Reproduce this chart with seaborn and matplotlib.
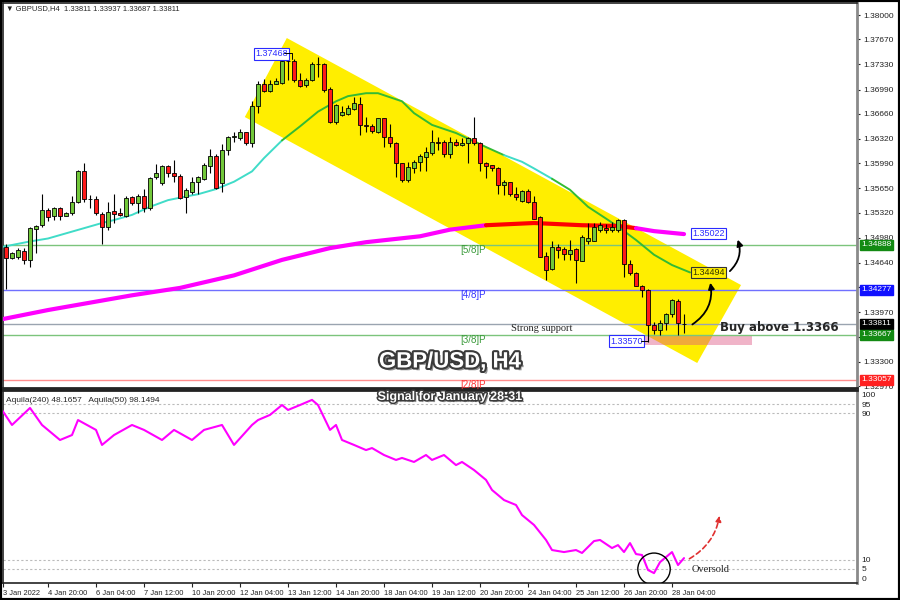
import numpy as np
import pandas as pd
import seaborn as sns
import matplotlib.pyplot as plt
from matplotlib import patheffects as pe
from matplotlib.patches import Polygon, Rectangle, Ellipse, FancyArrowPatch

sns.set_style("white")
plt.rcParams['font.family'] = ['DejaVu Sans']

# GBPUSD H4 candles, bar 1 .. 114
opens = [1.3486, 1.3471, 1.3472, 1.3480, 1.3468, 1.3510, 1.3515, 1.3535, 1.3527, 1.3538,
         1.3528, 1.3531, 1.3547, 1.3588, 1.3551, 1.3551, 1.3530, 1.3512, 1.3534, 1.3532,
         1.3527, 1.3553, 1.3545, 1.3555, 1.3539, 1.3580, 1.3572, 1.3595, 1.3586, 1.3582,
         1.3553, 1.3560, 1.3574, 1.3578, 1.3595, 1.3609, 1.3572, 1.3617, 1.3635, 1.3633,
         1.3641, 1.3627, 1.3676, 1.3707, 1.3697, 1.3707, 1.3708, 1.3738, 1.3738, 1.3712,
         1.3705, 1.3712, 1.3733, 1.3733, 1.3700, 1.3655, 1.3664, 1.3666, 1.3673, 1.3680,
         1.3651, 1.3650, 1.3642, 1.3660, 1.3634, 1.3626, 1.3599, 1.3576, 1.3592, 1.3601,
         1.3608, 1.3613, 1.3628, 1.3628, 1.3611, 1.3628, 1.3624, 1.3626, 1.3633, 1.3627,
         1.3600, 1.3596, 1.3592, 1.3570, 1.3573, 1.3557, 1.3548, 1.3561, 1.3546, 1.3526,
         1.3473, 1.3455, 1.3486, 1.3483, 1.3476, 1.3483, 1.3467, 1.3493, 1.3494, 1.3509,
         1.3511, 1.3509, 1.3509, 1.3522, 1.3463, 1.3450, 1.3433, 1.3427, 1.3380, 1.3373,
         1.3382, 1.3395, 1.3412, 1.3381]
highs = [1.3490, 1.3479, 1.3484, 1.3484, 1.3513, 1.3515, 1.3557, 1.3538, 1.3540, 1.3540,
         1.3533, 1.3555, 1.3590, 1.3599, 1.3556, 1.3554, 1.3533, 1.3546, 1.3558, 1.3538,
         1.3554, 1.3555, 1.3558, 1.3564, 1.3581, 1.3598, 1.3597, 1.3597, 1.3603, 1.3585,
         1.3565, 1.3581, 1.3582, 1.3600, 1.3618, 1.3612, 1.3625, 1.3636, 1.3642, 1.3646,
         1.3642, 1.3684, 1.3710, 1.3713, 1.3712, 1.3714, 1.3744, 1.3747, 1.3740, 1.3722,
         1.3714, 1.3736, 1.3743, 1.3735, 1.3703, 1.3680, 1.3676, 1.3678, 1.3689, 1.3689,
         1.3662, 1.3652, 1.3661, 1.3660, 1.3652, 1.3628, 1.3600, 1.3601, 1.3603, 1.3611,
         1.3621, 1.3644, 1.3635, 1.3631, 1.3635, 1.3632, 1.3633, 1.3635, 1.3662, 1.3628,
         1.3601, 1.3597, 1.3594, 1.3576, 1.3574, 1.3567, 1.3563, 1.3564, 1.3555, 1.3527,
         1.3479, 1.3493, 1.3490, 1.3486, 1.3495, 1.3484, 1.3502, 1.3518, 1.3518, 1.3520,
         1.3517, 1.3520, 1.3524, 1.3524, 1.3468, 1.3451, 1.3434, 1.3429, 1.3384, 1.3387,
         1.3396, 1.3415, 1.3415, 1.3394]
lows = [1.3429, 1.3469, 1.3469, 1.3463, 1.3459, 1.3478, 1.3513, 1.3521, 1.3522, 1.3522,
        1.3527, 1.3529, 1.3545, 1.3547, 1.3538, 1.3529, 1.3490, 1.3509, 1.3518, 1.3527,
        1.3526, 1.3542, 1.3531, 1.3533, 1.3536, 1.3577, 1.3569, 1.3581, 1.3574, 1.3551,
        1.3531, 1.3558, 1.3558, 1.3576, 1.3586, 1.3564, 1.3560, 1.3610, 1.3628, 1.3631,
        1.3624, 1.3621, 1.3667, 1.3696, 1.3695, 1.3706, 1.3706, 1.3712, 1.3709, 1.3702,
        1.3703, 1.3711, 1.3716, 1.3695, 1.3653, 1.3652, 1.3663, 1.3664, 1.3671, 1.3637,
        1.3642, 1.3640, 1.3640, 1.3621, 1.3621, 1.3581, 1.3573, 1.3573, 1.3586, 1.3588,
        1.3588, 1.3610, 1.3617, 1.3608, 1.3606, 1.3622, 1.3622, 1.3599, 1.3624, 1.3588,
        1.3579, 1.3588, 1.3558, 1.3556, 1.3554, 1.3549, 1.3547, 1.3545, 1.3524, 1.3472,
        1.3441, 1.3454, 1.3470, 1.3468, 1.3468, 1.3436, 1.3466, 1.3490, 1.3493, 1.3506,
        1.3504, 1.3506, 1.3506, 1.3445, 1.3448, 1.3432, 1.3418, 1.3357, 1.3368, 1.3366,
        1.3373, 1.3391, 1.3366, 1.3369]
closes = [1.3471, 1.3477, 1.3481, 1.3468, 1.3511, 1.3514, 1.3535, 1.3526, 1.3538, 1.3527,
          1.3532, 1.3547, 1.3589, 1.3551, 1.3550, 1.3531, 1.3512, 1.3533, 1.3530, 1.3529,
          1.3552, 1.3545, 1.3555, 1.3538, 1.3579, 1.3586, 1.3595, 1.3586, 1.3582, 1.3552,
          1.3563, 1.3574, 1.3580, 1.3597, 1.3609, 1.3565, 1.3617, 1.3635, 1.3636, 1.3641,
          1.3627, 1.3676, 1.3707, 1.3697, 1.3707, 1.3710, 1.3737, 1.3738, 1.3712, 1.3704,
          1.3712, 1.3733, 1.3734, 1.3699, 1.3655, 1.3678, 1.3668, 1.3674, 1.3681, 1.3651,
          1.3650, 1.3643, 1.3660, 1.3634, 1.3626, 1.3599, 1.3576, 1.3594, 1.3601, 1.3609,
          1.3614, 1.3628, 1.3626, 1.3611, 1.3628, 1.3624, 1.3627, 1.3633, 1.3627, 1.3599,
          1.3595, 1.3592, 1.3570, 1.3574, 1.3558, 1.3553, 1.3561, 1.3547, 1.3524, 1.3472,
          1.3454, 1.3486, 1.3482, 1.3476, 1.3482, 1.3468, 1.3499, 1.3498, 1.3512, 1.3515,
          1.3509, 1.3513, 1.3522, 1.3463, 1.3450, 1.3433, 1.3427, 1.3380, 1.3373, 1.3383,
          1.3394, 1.3413, 1.3383, 1.3381]

# moving averages (read at some bars)
fast_bar = [0, 5, 8, 14, 17, 19, 22, 25, 28, 31, 33, 36, 39, 42, 44, 47, 50, 53, 56, 58,
            61, 63, 67, 69, 72, 76, 81, 84, 87, 89, 92, 95, 98, 101, 103, 106, 109, 112, 115]
fast_ma = [1.3485, 1.3493, 1.3497, 1.3511, 1.3518, 1.3522, 1.3529, 1.3540, 1.3549, 1.3554,
           1.3557, 1.3564, 1.3574, 1.3588, 1.3606, 1.3630, 1.3649, 1.3669, 1.3683, 1.3690,
           1.3694, 1.3694, 1.3683, 1.3667, 1.3651, 1.3640, 1.3621, 1.3610, 1.3601, 1.3592,
           1.3578, 1.3563, 1.3540, 1.3524, 1.3513, 1.3495, 1.3475, 1.3461, 1.3451]
slow_bar = [0, 8, 15, 22, 30, 39, 47, 55, 61, 70, 75, 81, 89, 97, 103, 106, 109, 114]
slow_ma = [1.3387, 1.3400, 1.3410, 1.3420, 1.3430, 1.3447, 1.3468, 1.3484, 1.3492, 1.3500,
           1.3509, 1.3515, 1.3518, 1.3515, 1.3514, 1.3511, 1.3507, 1.3503]

# Aquila oscillator
osc_bar = [0, 2, 5, 7, 10, 12, 13, 16, 17, 19, 22, 24, 27, 29, 32, 34, 37, 39, 42, 43,
           45, 47, 48, 50, 52, 53, 55, 56, 57, 59, 61, 62, 64, 66, 67, 69, 71, 72, 74, 76,
           77, 79, 81, 82, 84, 86, 87, 89, 91, 92, 94, 96, 97, 99, 100, 102, 103, 104, 105, 106,
           107, 108, 109, 110, 112, 113, 114]
osc_val = [93.4, 83.6, 92.9, 83.6, 75.4, 78.1, 86.3, 80.9, 72.7, 78.1, 83.6, 80.9, 75.4, 80.9,
           75.4, 80.9, 83.6, 72.7, 83.6, 86.3, 89.1, 94.5, 91.8, 94.5, 97.3, 94.5, 80.9, 83.6,
           75.4, 72.7, 69.9, 71.0, 67.2, 64.5, 65.6, 63.4, 67.2, 64.5, 67.2, 61.7, 63.4, 59.0,
           53.6, 48.1, 42.6, 39.9, 34.4, 29.0, 20.8, 15.3, 14.2, 15.3, 13.7, 20.2, 20.8, 16.4,
           18.0, 14.2, 19.1, 13.1, 12.6, 4.4, 2.7, 8.7, 14.2, 7.1, 10.9]

price_ticks = [1.38000, 1.37670, 1.37330, 1.36990, 1.36660, 1.36320, 1.35990, 1.35650,
               1.35320, 1.34980, 1.34640, 1.34310, 1.33970, 1.33640, 1.33300, 1.32970]
# these two sit under the level tags on the chart
hidden_ticks = [1.34310, 1.33640]
osc_ticks = [100, 95, 90, 10, 5, 0]
time_ticks = [0.5, 8, 16, 24, 32, 40, 48, 56, 64, 72, 80, 88, 96, 104, 112]
time_labels = ['3 Jan 2022', '4 Jan 20:00', '6 Jan 04:00', '7 Jan 12:00', '10 Jan 20:00',
               '12 Jan 04:00', '13 Jan 12:00', '14 Jan 20:00', '18 Jan 04:00', '19 Jan 12:00',
               '20 Jan 20:00', '24 Jan 04:00', '25 Jan 12:00', '26 Jan 20:00', '28 Jan 04:00']

levels = [1.34888, 1.34277, 1.33811, 1.33667, 1.33057]
level_names = ['[5/8]P', '[4/8]P', '', '[3/8]P', '[2/8]P']

df = pd.DataFrame({'open': opens, 'high': highs, 'low': lows, 'close': closes})
df['bar'] = np.arange(1, len(df) + 1)

fig = plt.figure(figsize=(9, 6), dpi=100)
ax = fig.add_axes([3 / 900, 212 / 600, 854 / 900, 385 / 600])
ax2 = fig.add_axes([3 / 900, 17 / 600, 854 / 900, 193 / 600])

# channel + buy zone
ax.add_patch(Polygon([(40.8, 1.36617), (47.8, 1.37688), (123.5, 1.34339), (116.2, 1.33282)],
                     closed=True, fc='#ffee00', ec='none', zorder=1))
ax.add_patch(Rectangle((105.5, 1.33526), 19.8, 0.00135, fc=(0.87, 0.35, 0.52), alpha=0.45,
                       ec='none', zorder=1.5))

# levels
level_colors = ['#7cc47c', '#7070ff', '#9aa4b0', '#7cc47c', '#ff8c8c']
name_colors = ['#3a9a3a', '#3333ff', 'k', '#3a9a3a', '#ff3333']
box_colors = ['#138a13', '#1010ff', '#000000', '#138a13', '#ff2020']
ytr = ax.get_yaxis_transform()
for price, lc, nc, bc, name in zip(levels, level_colors, name_colors, box_colors, level_names):
    ax.axhline(price, color=lc, lw=1, zorder=2)
    if name:
        ax.text(78.8, price - 0.0007, name, color=nc, fontsize=7, ha='center', va='center',
                family='Liberation Sans', zorder=6)
    ax.text(1.005, price, f'{price:.5f}', transform=ytr, ha='left', va='center', fontsize=6,
            family='Liberation Sans', color='white',
            bbox=dict(boxstyle='square,pad=0.18', fc=bc, ec=bc), zorder=10, clip_on=False)

# moving averages
fast = pd.DataFrame({'bar': fast_bar, 'ma': fast_ma})
for lo, hi, c in [(0, 47, '#40dcc8'), (47, 84, '#33bb33'), (84, 92, '#40dcc8'), (92, 115, '#33bb33')]:
    seg = fast[(fast.bar >= lo) & (fast.bar <= hi)]
    sns.lineplot(data=seg, x='bar', y='ma', ax=ax, color=c, lw=1.4, zorder=3)
slow = pd.DataFrame({'bar': slow_bar, 'ma': slow_ma})
for lo, hi, c in [(0, 81, '#ff00ff'), (81, 106, '#ff0000'), (106, 114, '#ff00ff')]:
    seg = slow[(slow.bar >= lo) & (slow.bar <= hi)]
    sns.lineplot(data=seg, x='bar', y='ma', ax=ax, color=c, lw=3, zorder=3)

# candles
bull = df['close'] >= df['open']
body_lo = df[['open', 'close']].min(axis=1)
body_h = (df['close'] - df['open']).abs().clip(lower=0.00003)
ax.vlines(df['bar'], df['low'], df['high'], color='black', lw=0.8, zorder=4)
ax.bar(df['bar'], body_h, bottom=body_lo, width=0.7, color=np.where(bull, '#72c83a', '#ff1a1a'),
       edgecolor='black', linewidth=0.6, zorder=5)

# price tags
tag = dict(boxstyle='square,pad=0.15', lw=0.8)
ax.text(42.5, 1.37475, '1.37468', color='#2b2bff', fontsize=6.5, family='Liberation Sans',
        ha='left', va='center', bbox=dict(fc='white', ec='#2b2bff', **tag), zorder=8)
ax.plot([47.4, 48.6, 48.6], [1.37485, 1.37485, 1.3740], color='black', lw=0.7, zorder=8)
ax.text(101.7, 1.33580, '1.33570', color='#2b2bff', fontsize=6.5, family='Liberation Sans',
        ha='left', va='center', bbox=dict(fc='white', ec='#2b2bff', **tag), zorder=8)
ax.plot([106.9, 108, 108], [1.33580, 1.33580, 1.3368], color='black', lw=0.7, zorder=8)
ax.text(115.4, 1.35037, '1.35022', color='#2b2bff', fontsize=6.5, family='Liberation Sans',
        ha='left', va='center', bbox=dict(fc='white', ec='#2b2bff', **tag), zorder=8)
ax.text(115.4, 1.34509, '1.34494', color='#333300', fontsize=6.5, family='Liberation Sans',
        ha='left', va='center', bbox=dict(fc='#ffee00', ec='#333333', **tag), zorder=8)

ax.text(90.3, 1.33756, 'Strong support', fontsize=7.5, family='Liberation Serif',
        ha='center', va='center', zorder=6)
ax.text(120, 1.33760, 'Buy above 1.3366', fontsize=8.5, fontweight='bold', ha='left',
        va='center', zorder=9)

for a, b in [((115.0, 1.33784), (118.3, 1.34407)), ((121.3, 1.34502), (122.8, 1.34990))]:
    ax.add_patch(FancyArrowPatch(a, b, connectionstyle='arc3,rad=0.35', arrowstyle='-|>',
                                 mutation_scale=9, color='black', lw=1.3, zorder=9))

ax.text(0.003, 0.995, '\u25bc GBPUSD,H4  1.33811 1.33937 1.33687 1.33811', transform=ax.transAxes,
        fontsize=5.5, family=['Liberation Sans', 'DejaVu Sans'], va='top', ha='left')

# oscillator
sns.lineplot(x=osc_bar, y=osc_val, ax=ax2, color='#ff00ff', lw=1.5, zorder=4)
for v in [95, 90, 10, 5]:
    ax2.axhline(v, color='#bbbbbb', ls=(0, (2, 2)), lw=0.8, zorder=1)
ax2.add_patch(Ellipse((109, 4.9), 5.4, 17.5, fill=False, ec='black', lw=1, zorder=6))
ax2.text(118.5, 4.9, 'Oversold', fontsize=7.5, family='Liberation Serif', ha='center', va='center')
ax2.add_patch(FancyArrowPatch((114.5, 9.8), (120, 35.5), connectionstyle='arc3,rad=0.25',
                              arrowstyle='-|>', mutation_scale=8, color='#e03030', lw=1.2,
                              linestyle=(0, (3, 2)), zorder=6))
ax2.text(0.003, 0.965, 'Aquila(240) 48.1657   Aquila(50) 98.1494', transform=ax2.transAxes,
         fontsize=6, family='Liberation Sans', va='top', ha='left')

# axes styling
for a in (ax, ax2):
    a.set_xlim(0.5, 142.83)
    a.set_xlabel('')
    a.set_ylabel('')
    a.yaxis.tick_right()
    for s in a.spines.values():
        s.set_color('#222222')
        s.set_linewidth(1.2)
    a.spines['right'].set_color('#8a8a8a')
    a.spines['right'].set_linewidth(2)
ax.set_ylim(1.32943, 1.38163)
ax.set_xticks([])
ax.set_yticks(price_ticks)
ax.set_yticklabels(['' if p in hidden_ticks else f'{p:.5f}' for p in price_ticks],
                   family='Liberation Sans')
ax.tick_params(axis='y', labelsize=6, length=2.5, pad=2, colors='#222222')
ax.spines['bottom'].set_linewidth(2)

ax2.set_ylim(-2.7, 102.7)
ax2.set_yticks(osc_ticks)
ax2.set_yticklabels([str(v) for v in osc_ticks], family='Liberation Sans')
ax2.tick_params(axis='y', labelsize=6, length=0, pad=3, colors='#222222')
ax2.set_xticks(time_ticks)
ax2.set_xticklabels(time_labels, ha='left', family='Liberation Sans')
ax2.tick_params(axis='x', labelsize=5.4, length=3, pad=2, colors='#222222', bottom=True)
ax2.spines['top'].set_linewidth(2)

# overlay titles
t1 = fig.text(450 / 900, 1 - 362 / 600, 'GBP/USD, H4', ha='center', va='center', fontsize=16,
              fontweight='bold', color='white', family='Liberation Sans', zorder=20)
t1.set_path_effects([pe.SimplePatchShadow(offset=(2, -2), shadow_rgbFace='#666666', alpha=0.7),
                     pe.Stroke(linewidth=3, foreground='#3a3a3a'), pe.Normal()])
t2 = fig.text(450 / 900, 1 - 397 / 600, 'Signal for January 28-31', ha='center', va='center',
              fontsize=9, fontweight='bold', color='white', family='Liberation Sans', zorder=20)
t2.set_path_effects([pe.SimplePatchShadow(offset=(1.5, -1.5), shadow_rgbFace='#666666', alpha=0.7),
                     pe.Stroke(linewidth=2.2, foreground='#3a3a3a'), pe.Normal()])

fig.add_artist(Rectangle((0, 0), 1, 1, transform=fig.transFigure, fill=False, ec='black', lw=3))

plt.savefig('out.png', dpi=100, facecolor='white')
